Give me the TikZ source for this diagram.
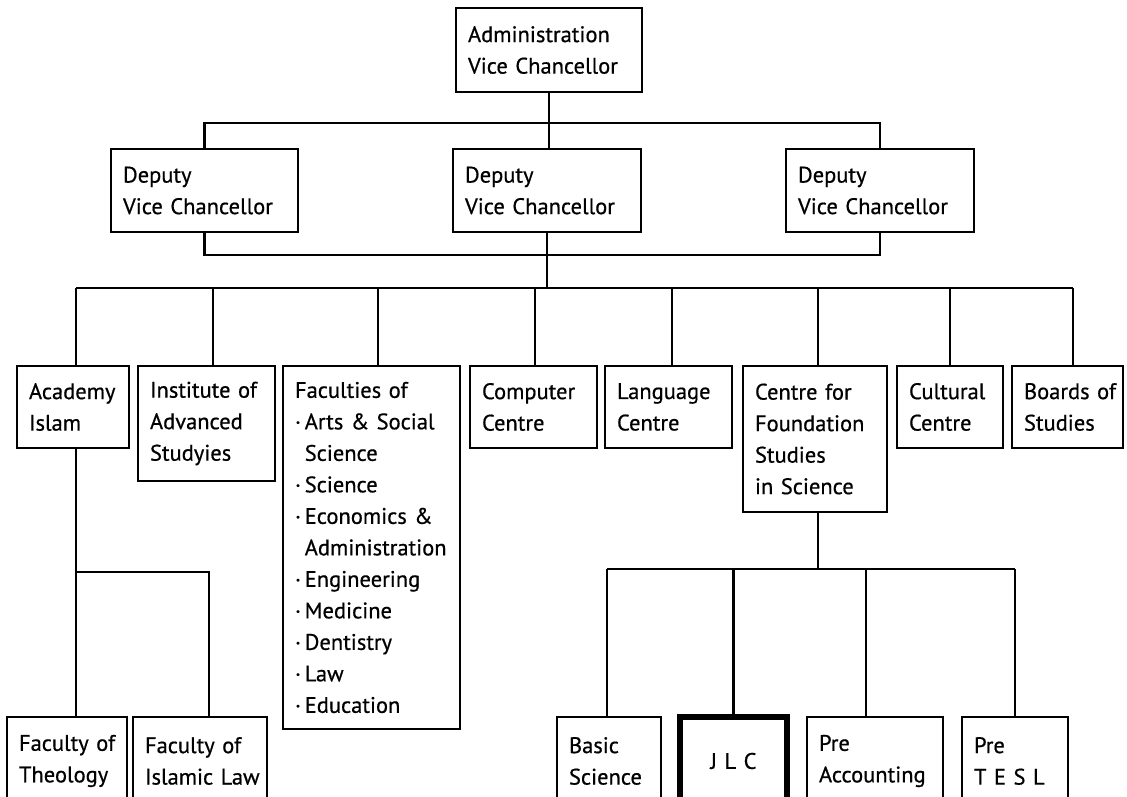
\documentclass[tikz,border=0pt]{standalone}
\usepackage{fontspec}
\setmainfont[FakeBold=0.6]{PT Sans}
\newcommand{\mybox}[7][]{%
  \pgfmathsetmacro\bw{#4-#3}%
  \pgfmathsetmacro\bh{#6-#5}%
  \pgfmathsetmacro\tw{#4-#3-24}%
  \node[box,#1,minimum width=\bw pt,minimum height=\bh pt,text width=\tw pt] (#2) at ({(#3+#4)/2},{(#5+#6)/2}) {#7};}
\newcommand{\bul}{·\,}
\newcommand{\ind}{\phantom{·\,}}
\begin{document}
\begin{tikzpicture}[x=1pt,y=-1pt,
  box/.style={draw, line width=2.8pt, align=left, inner xsep=12pt, inner ysep=0pt,
    font=\fontsize{22.5}{31.5}\selectfont},
  ln/.style={line width=2.8pt},
  thickbox/.style={line width=5.5pt}]
\useasboundingbox (0,0) rectangle (1127,797);
% level 0
\mybox{admin}{456}{642}{8}{92}{Administration\\Vice~Chancellor}
% level 1
\mybox{d1}{111}{298}{149}{232}{Deputy\\Vice~Chancellor}
\mybox{d2}{453}{641}{149}{232}{Deputy\\Vice~Chancellor}
\mybox{d3}{786}{974}{149}{232}{Deputy\\Vice~Chancellor}
% level 2
\mybox{acad}{17}{129}{366}{448}{Academy\\Islam}
\mybox{inst}{138}{275}{366}{481}{Institute~of\\Advanced\\Studyies}
\mybox{fac}{283}{460}{366}{729}{Faculties~of\\\bul Arts~\&~Social\\\ind Science\\\bul Science\\\bul Economics~\&\\\ind Administration\\\bul Engineering\\\bul Medicine\\\bul Dentistry\\\bul Law\\\bul Education}
\mybox{comp}{470}{597}{366}{448}{Computer\\Centre}
\mybox{lang}{605}{732}{366}{448}{Language\\Centre}
\mybox{cfs}{743}{887}{366}{512}{Centre~for\\Foundation\\Studies\\in~Science}
\mybox{cult}{897}{1003}{366}{448}{Cultural\\Centre}
\mybox{boards}{1012}{1123}{366}{448}{Boards~of\\Studies}
% level 3
\mybox{theo}{7}{127}{717}{805}{Faculty~of\\Theology}
\mybox{islaw}{133}{267}{717}{805}{Faculty~of\\Islamic~Law}
\mybox{basic}{557}{661}{717}{805}{Basic\\Science}
\mybox[thickbox,align=center]{jlc}{680}{787}{717}{805}{J L C}
\mybox{preacc}{807}{943}{717}{805}{Pre\\Accounting}
\mybox{pretesl}{962}{1068}{717}{805}{Pre\\T E S L}
% bar coordinates
\coordinate (bar1) at (0,123);
\coordinate (bar2) at (0,255);
\coordinate (bar3) at (0,288);
\coordinate (bar4) at (0,569);
\coordinate (bar5) at (0,572);
% connectors level 0-1
\draw[ln] (admin.south) -- (admin.south |- d2.north);
\draw[ln] (d1.north) -- (d1.north |- bar1) -- (d3.north |- bar1) -- (d3.north);
\draw[ln] (d1.south) -- (d1.south |- bar2) -- (d3.south |- bar2) -- (d3.south);
\draw[ln] (d2.south) -- (d2.south |- bar3);
% connectors level 2
\draw[ln] ([xshift=3pt]acad.north |- bar3) -- ([xshift=5.5pt]boards.north |- bar3);
\draw[ln] ([xshift=3pt]acad.north) -- ([xshift=3pt]acad.north |- bar3);
\draw[ln] ([xshift=6.5pt]inst.north) -- ([xshift=6.5pt]inst.north |- bar3);
\draw[ln] ([xshift=6.5pt]fac.north) -- ([xshift=6.5pt]fac.north |- bar3);
\draw[ln] ([xshift=1.5pt]comp.north) -- ([xshift=1.5pt]comp.north |- bar3);
\draw[ln] ([xshift=3.5pt]lang.north) -- ([xshift=3.5pt]lang.north |- bar3);
\draw[ln] ([xshift=3pt]cfs.north) -- ([xshift=3pt]cfs.north |- bar3);
\draw[ln] (cult.north) -- (cult.north |- bar3);
\draw[ln] ([xshift=5.5pt]boards.north) -- ([xshift=5.5pt]boards.north |- bar3);
% academy branch
\draw[ln] ([xshift=3pt]acad.south) -- ([xshift=3pt]acad.south |- theo.north);
\draw[ln] ([xshift=3pt]acad.south |- bar5) -- ([xshift=9pt]islaw.north |- bar5) -- ([xshift=9pt]islaw.north);
% centre branch
\draw[ln] ([xshift=3pt]cfs.south) -- ([xshift=3pt]cfs.south |- bar4);
\draw[ln] ([xshift=-2pt]basic.north |- bar4) -- (pretesl.north |- bar4);
\draw[ln] ([xshift=-2pt]basic.north) -- ([xshift=-2pt]basic.north |- bar4);
\draw[ln] (jlc.north) -- (jlc.north |- bar4);
\draw[ln] ([xshift=-9pt]preacc.north) -- ([xshift=-9pt]preacc.north |- bar4);
\draw[ln] (pretesl.north) -- (pretesl.north |- bar4);
\end{tikzpicture}
\end{document}
